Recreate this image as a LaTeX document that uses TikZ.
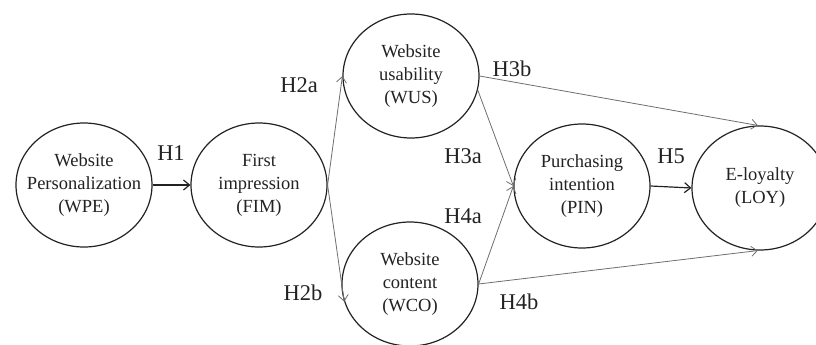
\documentclass[tikz,border=0pt]{standalone}
\usepackage{fontspec}
\setmainfont{Liberation Serif}
\usetikzlibrary{arrows.meta,shapes.geometric}
\definecolor{inkc}{HTML}{222222}
\definecolor{thinc}{HTML}{6E6E6E}
\begin{document}
\begin{tikzpicture}[x=1pt,y=-1pt,
  construct/.style={ellipse, draw=inkc, line width=1.2pt, minimum width=136pt, minimum height=124pt,
    inner xsep=-14pt, inner ysep=0pt, align=center, text=inkc,
    font=\fontsize{18.5}{23}\selectfont},
  hyp/.style={text=inkc, inner sep=0pt, font=\fontsize{22.5}{27}\selectfont},
  mainarrow/.style={draw=inkc, line width=1.2pt, -{Straight Barb[length=6pt,width=10pt]}},
  sidearrow/.style={draw=thinc, line width=0.8pt, -{Straight Barb[length=6pt,width=10pt]}}
]
\useasboundingbox (0,0) rectangle (816,345);
\node[construct] (wpe) at (84,185) {Website\\Personalization\\(WPE)};
\node[construct] (fim) at (259,185) {First\\impression\\(FIM)};
\node[construct] (wus) at (411,76) {Website\\usability\\(WUS)};
\node[construct] (wco) at (410,284) {Website\\content\\(WCO)};
\node[construct] (pin) at (582,186) {Purchasing\\intention\\(PIN)};
\node[construct] (loy) at (760,188) {E-loyalty\\(LOY)};

\draw[mainarrow] (wpe.east) -- (fim.west);
\draw[mainarrow] (pin.east) -- (loy.west);
\draw[sidearrow] (fim.east) -- (wus.west);
\draw[sidearrow] (fim.east) -- (wco.195);
\draw[sidearrow] (wus.-12) -- (pin.west);
\draw[sidearrow] (wco.east) -- (pin.west);
\draw[sidearrow] (wus.east) -- (loy.92);
\draw[sidearrow] (wco.east) -- (loy.268);

\node[hyp] (h1) at (171,153) {H1};
\node[hyp] (h2a) at (299,85) {H2a};
\node[hyp] (h2b) at (303,293) {H2b};
\node[hyp] (h3a) at (463,156) {H3a};
\node[hyp] (h3b) at (512,69) {H3b};
\node[hyp] (h4a) at (463,216) {H4a};
\node[hyp] (h4b) at (519,302) {H4b};
\node[hyp] (h5) at (671,156) {H5};
\end{tikzpicture}
\end{document}
